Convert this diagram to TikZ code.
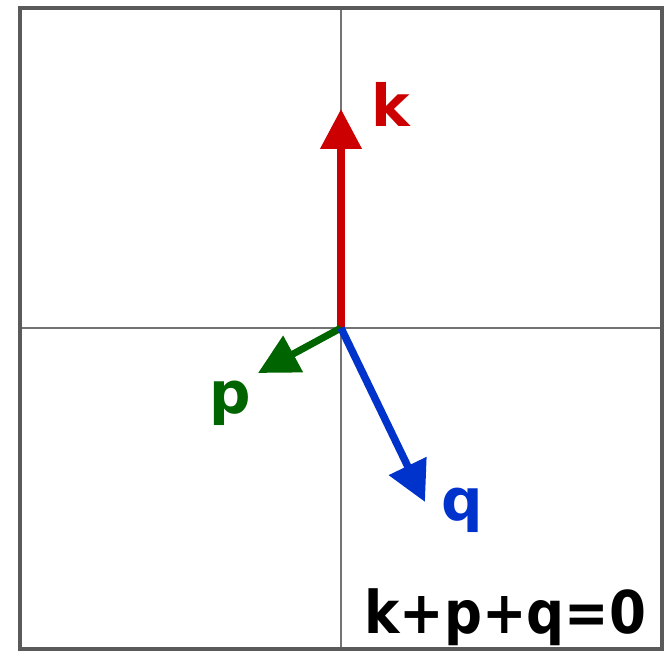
\documentclass[tikz,border=0pt]{standalone}
\usepackage{fontspec}
\newfontfamily\labfont[FakeStretch=0.9]{DejaVu Sans Bold}
\newfontfamily\letfont{DejaVu Sans Bold}
\usetikzlibrary{arrows.meta}
\definecolor{kred}{RGB}{204,0,0}
\definecolor{pgreen}{RGB}{0,100,0}
\definecolor{qblue}{RGB}{0,51,204}
\definecolor{framegray}{RGB}{90,90,90}
\definecolor{axisgray}{RGB}{115,115,115}
\tikzset{
  vec/.style={line width=7.5pt,-{Triangle[length=40pt,width=40pt]}},
  lab/.style={anchor=base west,inner sep=0pt,font=\labfont\fontsize{59}{60}\selectfont},
  letlab/.style={anchor=base west,inner sep=0pt,font=\letfont\fontsize{58}{60}\selectfont},
  axisline/.style={axisgray,line width=1.8pt}
}
\begin{document}
\begin{tikzpicture}[x=1pt,y=-1pt]
\useasboundingbox (0,0) rectangle (670,652);
\coordinate (TL) at (20,8);
\coordinate (BR) at (662,649);
\coordinate (O) at (341,328);
\coordinate (AT) at (341,8);
\coordinate (AB) at (341,649);
\coordinate (AL) at (20,328);
\coordinate (AR) at (662,328);
\coordinate (K) at (341,109);
\coordinate (P) at (258,373);
\coordinate (Q) at (425,502);
\draw[axisline] (AT) -- (AB);
\draw[axisline] (AL) -- (AR);
\draw[framegray,line width=4pt] (TL) rectangle (BR);
\draw[vec,kred] (O) -- (K);
\draw[vec,pgreen,line width=7pt] (O) -- (P);
\draw[vec,qblue] (O) -- (Q);
\node[letlab,text=kred] (kl) at (371,127) {k};
\node[letlab,text=pgreen] (pl) at (209,414) {p};
\node[letlab,text=qblue] (ql) at (441,520) {q};
\node[lab,text=black] (eq) at (364,633) {k+p+q=0};
\end{tikzpicture}
\end{document}
